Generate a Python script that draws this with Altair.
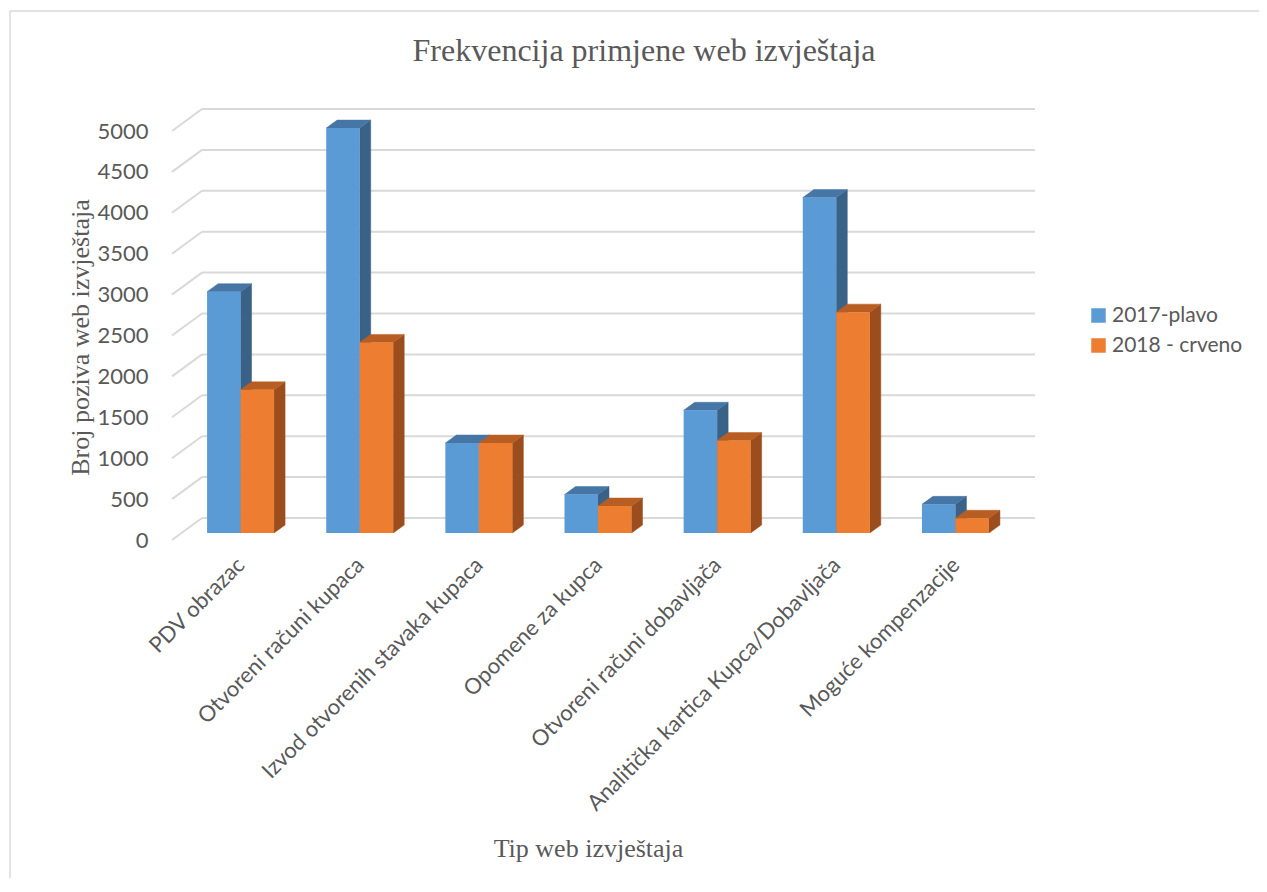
import altair as alt
import pandas as pd

# ---------------- data ----------------
categories = [
    "PDV obrazac",
    "Otvoreni računi kupaca",
    "Izvod otvorenih stavaka kupaca",
    "Opomene za kupca",
    "Otvoreni računi dobavljača",
    "Analitička kartica Kupca/Dobavljača",
    "Moguće kompenzacije",
]
values_2017 = [2950, 4950, 1100, 470, 1500, 4100, 350]
values_2018 = [1750, 2330, 1100, 330, 1130, 2700, 180]
series = ["2017-plavo", "2018 - crveno"]
y_ticks = [0, 500, 1000, 1500, 2000, 2500, 3000, 3500, 4000, 4500, 5000]

# ---------------- geometry / style ----------------
W, H = 834, 409
YMAX = 5000
BAND = W / len(categories)
BAR_PX = 33.5
DX_PX, DY_PX = 11, 8
bw = BAR_PX / BAND
d = DX_PX / BAND
dv = DY_PX * YMAX / H

front_col = {"2017-plavo": "#5b9bd5", "2018 - crveno": "#ed7d31"}
top_col = {"2017-plavo": "#4676a6", "2018 - crveno": "#b95e22"}
side_col = {"2017-plavo": "#3a6186", "2018 - crveno": "#9b4d1d"}
TXT = "#595959"
GRID = "#d9d9d9"

front_rows, side_rows, top_rows = [], [], []
for s_idx, (name, vals) in enumerate(zip(series, [values_2017, values_2018])):
    for i, v in enumerate(vals):
        x1 = i - bw + s_idx * bw
        x2 = x1 + bw
        fid = f"{s_idx}-{i}"
        front_rows.append(dict(series=name, cat=categories[i], x1=x1, x2=x2, v=v, zero=0))
        side_rows += [
            dict(series=name, fid=fid, x=x2, top=v, bot=0),
            dict(series=name, fid=fid, x=x2 + d, top=v + dv, bot=dv),
        ]
        top_rows += [
            dict(series=name, fid=fid, x=x1, top=v, bot=v),
            dict(series=name, fid=fid, x=x1 + d, top=v + dv, bot=v),
            dict(series=name, fid=fid, x=x2, top=v + dv, bot=v),
            dict(series=name, fid=fid, x=x2 + d, top=v + dv, bot=v + dv),
        ]

front_df = pd.DataFrame(front_rows)
side_df = pd.DataFrame(side_rows)
top_df = pd.DataFrame(top_rows)
grid_df = pd.DataFrame(dict(v=y_ticks, lo=-0.5, hi=len(categories) - 0.5))

label_js = "[" + ",".join("'" + c + "'" for c in categories) + "][datum.value]"

xscale = alt.Scale(domain=[-0.5, len(categories) - 0.5], nice=False, zero=False)
yscale = alt.Scale(domain=[0, YMAX], nice=False)

X_AX = alt.Axis(
    values=list(range(len(categories))),
    labelExpr=label_js,
    labelAngle=-45,
    labelAlign="right",
    labelBaseline="middle",
    labelFont="Lato",
    labelFontSize=22,
    labelColor=TXT,
    labelPadding=28,
    labelLimit=600,
    labelOverlap=False,
    grid=False,
    ticks=False,
    domain=False,
    title="Tip web izvještaja",
    titleFont="Liberation Serif",
    titleFontSize=26,
    titleFontWeight="normal",
    titleColor=TXT,
    titleX=407,
    titleY=315,
    titleAlign="center",
    titleBaseline="middle",
)
Y_AX = alt.Axis(
    values=y_ticks,
    format="d",
    labelFont="Lato",
    labelFontSize=22,
    labelColor=TXT,
    labelPadding=33,
    labelOffset=7,
    grid=False,
    ticks=False,
    domain=False,
    title="Broj poziva web izvještaja",
    titleFont="Liberation Serif",
    titleFontSize=26,
    titleFontWeight="normal",
    titleColor=TXT,
    titleX=-101,
    titleY=213,
    titleAngle=270,
    titleAlign="center",
    titleBaseline="middle",
)

# outer chart frame (only the top and left edges fall inside the window)
frame_top = alt.Chart(alt.Data(values=[{}])).mark_rule(
    color=GRID, strokeWidth=1.5
).encode(x=alt.value(-171), x2=alt.value(1300), y=alt.value(-113))
frame_left = alt.Chart(alt.Data(values=[{}])).mark_rule(
    color=GRID, strokeWidth=1.5
).encode(x=alt.value(-171), y=alt.value(-113), y2=alt.value(900))

back_grid = alt.Chart(grid_df).mark_rule(
    color=GRID, strokeWidth=2, xOffset=21, x2Offset=20, yOffset=-15
).encode(
    x=alt.X("lo:Q", scale=xscale, axis=X_AX),
    x2="hi:Q",
    y=alt.Y("v:Q", scale=yscale, axis=Y_AX),
)

side_grid = alt.Chart(grid_df).mark_rule(
    color=GRID, strokeWidth=2, xOffset=-9, x2Offset=21, yOffset=7, y2Offset=-15
).encode(
    x=alt.X("lo:Q", scale=xscale, axis=X_AX),
    x2="lo:Q",
    y=alt.Y("v:Q", scale=yscale, axis=Y_AX),
    y2="v:Q",
)

layers = [frame_top, frame_left, back_grid, side_grid]

for name in series:
    side = alt.Chart(side_df[side_df.series == name]).mark_area(
        color=side_col[name], stroke=side_col[name], strokeWidth=0.5
    ).encode(
        x=alt.X("x:Q", scale=xscale, axis=X_AX),
        y=alt.Y("top:Q", scale=yscale, axis=Y_AX),
        y2="bot:Q",
        detail="fid:N",
    )
    top = alt.Chart(top_df[top_df.series == name]).mark_area(
        color=top_col[name], stroke=top_col[name], strokeWidth=0.5
    ).encode(
        x=alt.X("x:Q", scale=xscale, axis=X_AX),
        y=alt.Y("top:Q", scale=yscale, axis=Y_AX),
        y2="bot:Q",
        detail="fid:N",
    )
    layers += [side, top]

front = alt.Chart(front_df).mark_rect().encode(
    x=alt.X("x1:Q", scale=xscale, axis=X_AX),
    x2="x2:Q",
    y=alt.Y("v:Q", scale=yscale, axis=Y_AX),
    y2="zero:Q",
    color=alt.Color(
        "series:N",
        scale=alt.Scale(domain=series, range=[front_col[s] for s in series]),
        legend=alt.Legend(
            title=None,
            orient="none",
            legendX=907,
            legendY=181,
            symbolType="square",
            symbolSize=210,
            symbolStrokeWidth=0,
            labelFont="Lato",
            labelFontSize=21,
            labelColor=TXT,
            labelOffset=3,
            rowPadding=8,
            padding=0,
        ),
    ),
)
layers.append(front)

chart = alt.layer(*layers).properties(
    width=W,
    height=H,
    background="white",
    title=alt.TitleParams(
        "Frekvencija primjene web izvještaja",
        font="Liberation Serif",
        fontSize=32,
        fontWeight="normal",
        color=TXT,
        anchor="middle",
        frame="group",
        dx=46,
        baseline="alphabetic",
        offset=-83,
    ),
    padding={"left": 173, "top": 116, "right": 244, "bottom": 345},
    autosize=alt.AutoSizeParams(type="none"),
).configure_view(stroke="transparent", strokeWidth=0)

chart.save("out.html", embed_options={"renderer": "svg", "actions": False})
